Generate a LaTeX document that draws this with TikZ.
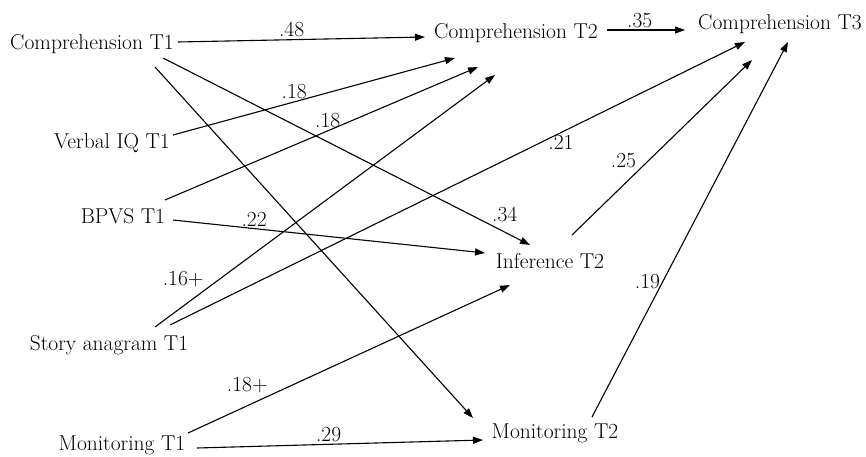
\documentclass[tikz,border=0pt]{standalone}
\usetikzlibrary{arrows.meta}

\begin{document}
\begin{tikzpicture}[x=1pt, y=-1pt, font=\fontsize{21.5}{25}\selectfont,
    var/.style={inner sep=0pt},
    arr/.style={-{Triangle[length=10pt, width=7pt]}, line width=1.1pt},
    lbl/.style={inner sep=2pt}]
    \useasboundingbox (0, 0) rectangle (866, 457);

    %Nodes
    \node[var] at (92, 44) (c1) {Comprehension T1};
    \node[var] at (112, 143) (viq) {Verbal IQ T1};
    \node[var] at (123, 216) (bpvs) {BPVS T1};
    \node[var] at (109, 345) (story) {Story anagram T1};
    \node[var] at (122, 445) (mon1) {Monitoring T1};
    \node[var] at (516, 33) (c2) {Comprehension T2};
    \node[var] at (780, 24) (c3) {Comprehension T3};
    \node[var] at (550, 261) (inf) {Inference T2};
    \node[var] at (555, 433) (mon2) {Monitoring T2};

    %Lines
    \draw[arr] ([shift={(86, -2)}]c1.center) -- ([shift={(-91, 4)}]c2.center) node [lbl, above, pos=0.46] {.48};
    \draw[arr] ([shift={(91, -3)}]c2.center) -- ([shift={(-95, 6)}]c3.center) node [lbl, above, pos=0.42] {.35};
    \draw[arr] ([shift={(61, -8)}]viq.center) -- ([shift={(-61, 25)}]c2.center) node [lbl, above, pos=0.43] {.18};
    \draw[arr] ([shift={(42, -16)}]bpvs.center) -- ([shift={(-38, 34)}]c2.center) node [lbl, above, pos=0.52] {.18};
    \draw[arr] ([shift={(46, -18)}]story.center) -- ([shift={(-21, 42)}]c2.center) node [lbl, above left, pos=0.15] {.16+};
    \draw[arr] ([shift={(71, 14)}]c1.center) -- ([shift={(-20, -16)}]inf.center) node [lbl, above right, pos=0.89] {.34};
    \draw[arr] ([shift={(63, 23)}]c1.center) -- ([shift={(-82, -15)}]mon2.center);
    \draw[arr] ([shift={(50, 4)}]bpvs.center) -- ([shift={(-65, -8)}]inf.center) node [lbl, above, pos=0.26] {.22};
    \draw[arr] ([shift={(61, -20)}]story.center) -- ([shift={(-35, 18)}]c3.center) node [lbl, below, pos=0.68] {.21};
    \draw[arr] ([shift={(22, -26)}]inf.center) -- ([shift={(-28, 36)}]c3.center) node [lbl, above left, pos=0.37] {.25};
    \draw[arr] ([shift={(37, -16)}]mon2.center) -- ([shift={(8, 18)}]c3.center) node [lbl, left, pos=0.36] {.19};
    \draw[arr] ([shift={(66, -12)}]mon1.center) -- ([shift={(-40, 24)}]inf.center) node [lbl, above left, pos=0.255] {.18+};
    \draw[arr] ([shift={(75, 3)}]mon1.center) -- ([shift={(-72, 7)}]mon2.center) node [lbl, above, pos=0.46] {.29};

\end{tikzpicture}
\end{document}
